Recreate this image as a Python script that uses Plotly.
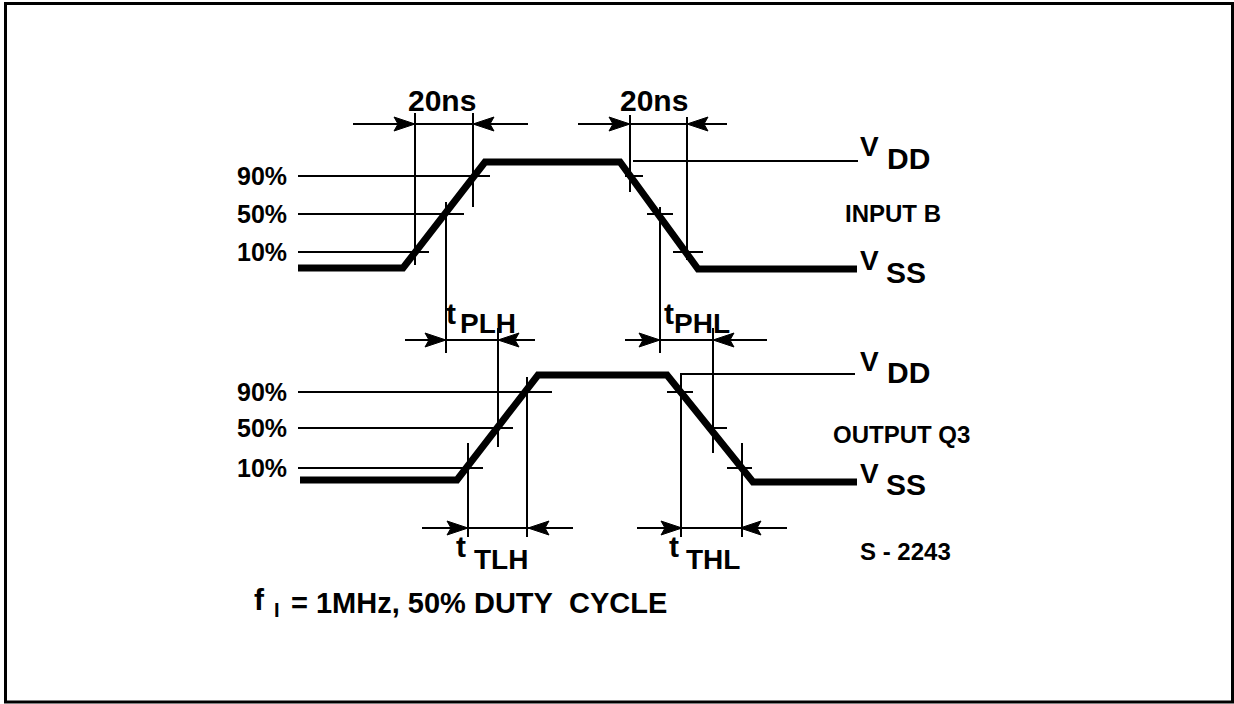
import plotly.graph_objects as go

W, H = 1234, 704
FONT = "Liberation Sans"

# ---------------- data (diagram units: x = time position, y = vertical position) -------------
input_t = [298, 403, 485, 620, 698, 857]
input_v = [268, 268, 162, 162, 269, 269]
output_t = [300, 457, 538, 667, 753, 857]
output_v = [480, 480, 375, 375, 482, 482]

level_labels = ["90%", "50%", "10%"]
level_start = 298
input_level_y = [176, 214, 252]
input_level_end = [490, 464, 429]
output_level_y = [392, 428, 468]
output_level_end = [552, 513, 483]

# short ticks at threshold crossings on falling edges
input_tick_x0 = [625, 647, 673]
input_tick_x1 = [643, 673, 703]
output_tick_x0 = [667, 708, 727]
output_tick_x1 = [693, 727, 752]

# supply reference lines (VDD)
vdd_x0 = [633, 680]
vdd_x1 = [858, 855]
vdd_y = [161, 374]

# vertical timing markers
marker_x = [415, 473, 446, 630, 687, 660, 498, 468, 527, 713, 681, 742]
marker_y0 = [113, 113, 202, 115, 117, 207, 328, 443, 377, 328, 375, 443]
marker_y1 = [265, 207, 353, 192, 260, 353, 447, 537, 537, 453, 537, 537]

# dimension arrows
dim_y = [124, 124, 340, 340, 528, 528]
dim_x0 = [353, 578, 405, 625, 422, 637]
dim_x1 = [528, 727, 535, 767, 573, 787]
dim_tip_l = [415, 630, 446, 660, 468, 682]
dim_tip_r = [473, 687, 498, 713, 528, 740]

# dimension texts
dim_text = ["20ns", "20ns"]
dim_text_x = [442, 654]
dim_text_y = [100, 100]
sub_main = ["PLH", "PHL", "TLH", "THL"]
sub_t_x = [451, 669, 461, 674]
sub_t_y = [313, 313, 546, 546]
sub_x = [488, 702, 501, 713]
sub_y = [323, 323, 559, 559]

# right side labels
sig_names = ["INPUT B", "OUTPUT Q3"]
sig_x = [893, 901]
sig_y = [213, 434]
supply_names = ["DD", "SS", "DD", "SS"]
supply_v_x = [869, 869, 869, 869]
supply_v_y = [146, 260, 361, 473]
supply_x = [908, 906, 908, 906]
supply_y = [158, 272, 372, 484]

footer = "= 1MHz, 50% DUTY&nbsp; CYCLE"
ref_code = "S - 2243"

# ---------------- figure -------------
fig = go.Figure()
for t, v in [(input_t, input_v), (output_t, output_v)]:
    fig.add_trace(go.Scatter(x=t, y=v, mode="lines",
                             line=dict(color="black", width=7),
                             hoverinfo="skip", showlegend=False))

shapes = []
def line(x0, y0, x1, y1, w=2):
    shapes.append(dict(type="line", x0=x0, y0=y0, x1=x1, y1=y1, xref="x", yref="y",
                       line=dict(color="black", width=w)))

def head(tip, y, d):
    L, hw = 21, 7
    b = tip - d * L
    shapes.append(dict(type="path", xref="x", yref="y",
                       path=f"M {tip} {y} L {b} {y-hw} L {b+d*4} {y} L {b} {y+hw} Z",
                       fillcolor="black", line=dict(color="black", width=1)))

for yy, xe in zip(input_level_y, input_level_end):
    line(level_start, yy, xe, yy)
for yy, xe in zip(output_level_y, output_level_end):
    line(level_start, yy, xe, yy)
for a, b, yy in zip(input_tick_x0, input_tick_x1, input_level_y):
    line(a, yy, b, yy)
for a, b, yy in zip(output_tick_x0, output_tick_x1, output_level_y):
    line(a, yy, b, yy)
for a, b, yy in zip(vdd_x0, vdd_x1, vdd_y):
    line(a, yy, b, yy)
for x, a, b in zip(marker_x, marker_y0, marker_y1):
    line(x, a, x, b)
for yy, a, b, tl, tr in zip(dim_y, dim_x0, dim_x1, dim_tip_l, dim_tip_r):
    line(a, yy, b, yy)
    head(tl, yy, 1)
    head(tr, yy, -1)

# border
shapes.append(dict(type="rect", xref="paper", yref="paper", x0=5.5 / W, y0=1 - 702 / H,
                   x1=1232.5 / W, y1=1 - 3.5 / H, line=dict(color="black", width=3)))

ann = []
def txt(x, y, s, size, anchor="center"):
    ann.append(dict(x=x, y=y, xref="x", yref="y", text=s, showarrow=False,
                    xanchor=anchor, yanchor="middle",
                    font=dict(family=FONT, size=size, color="black", weight="bold")))

for s, x, y in zip(dim_text, dim_text_x, dim_text_y):
    txt(x, y, s, 30)
for lab, yy in zip(level_labels, input_level_y):
    txt(289, yy, lab, 25, "right")
for lab, yy in zip(level_labels, output_level_y):
    txt(289, yy, lab, 25, "right")
for s, tx, ty, sx, sy in zip(sub_main, sub_t_x, sub_t_y, sub_x, sub_y):
    txt(tx, ty, "t", 30)
    txt(sx, sy, s, 28)
for s, x, y in zip(sig_names, sig_x, sig_y):
    txt(x, y, s, 24)
for s, vx, vy, sx, sy in zip(supply_names, supply_v_x, supply_v_y, supply_x, supply_y):
    txt(vx, vy, "V", 28)
    txt(sx, sy, s, 30)
txt(905, 551, ref_code, 24)
txt(259, 599, "f", 30)
txt(277, 610, "I", 20)
txt(289, 603, footer, 29, "left")

fig.update_layout(width=W, height=H, margin=dict(l=0, r=0, t=0, b=0),
                  paper_bgcolor="white", plot_bgcolor="white",
                  shapes=shapes, annotations=ann,
                  xaxis=dict(range=[0, W], visible=False, fixedrange=True),
                  yaxis=dict(range=[H, 0], visible=False, fixedrange=True))
fig.write_html("out.html", config={"displayModeBar": False},
               post_script="document.body.style.margin='0';document.body.style.overflow='hidden';")
